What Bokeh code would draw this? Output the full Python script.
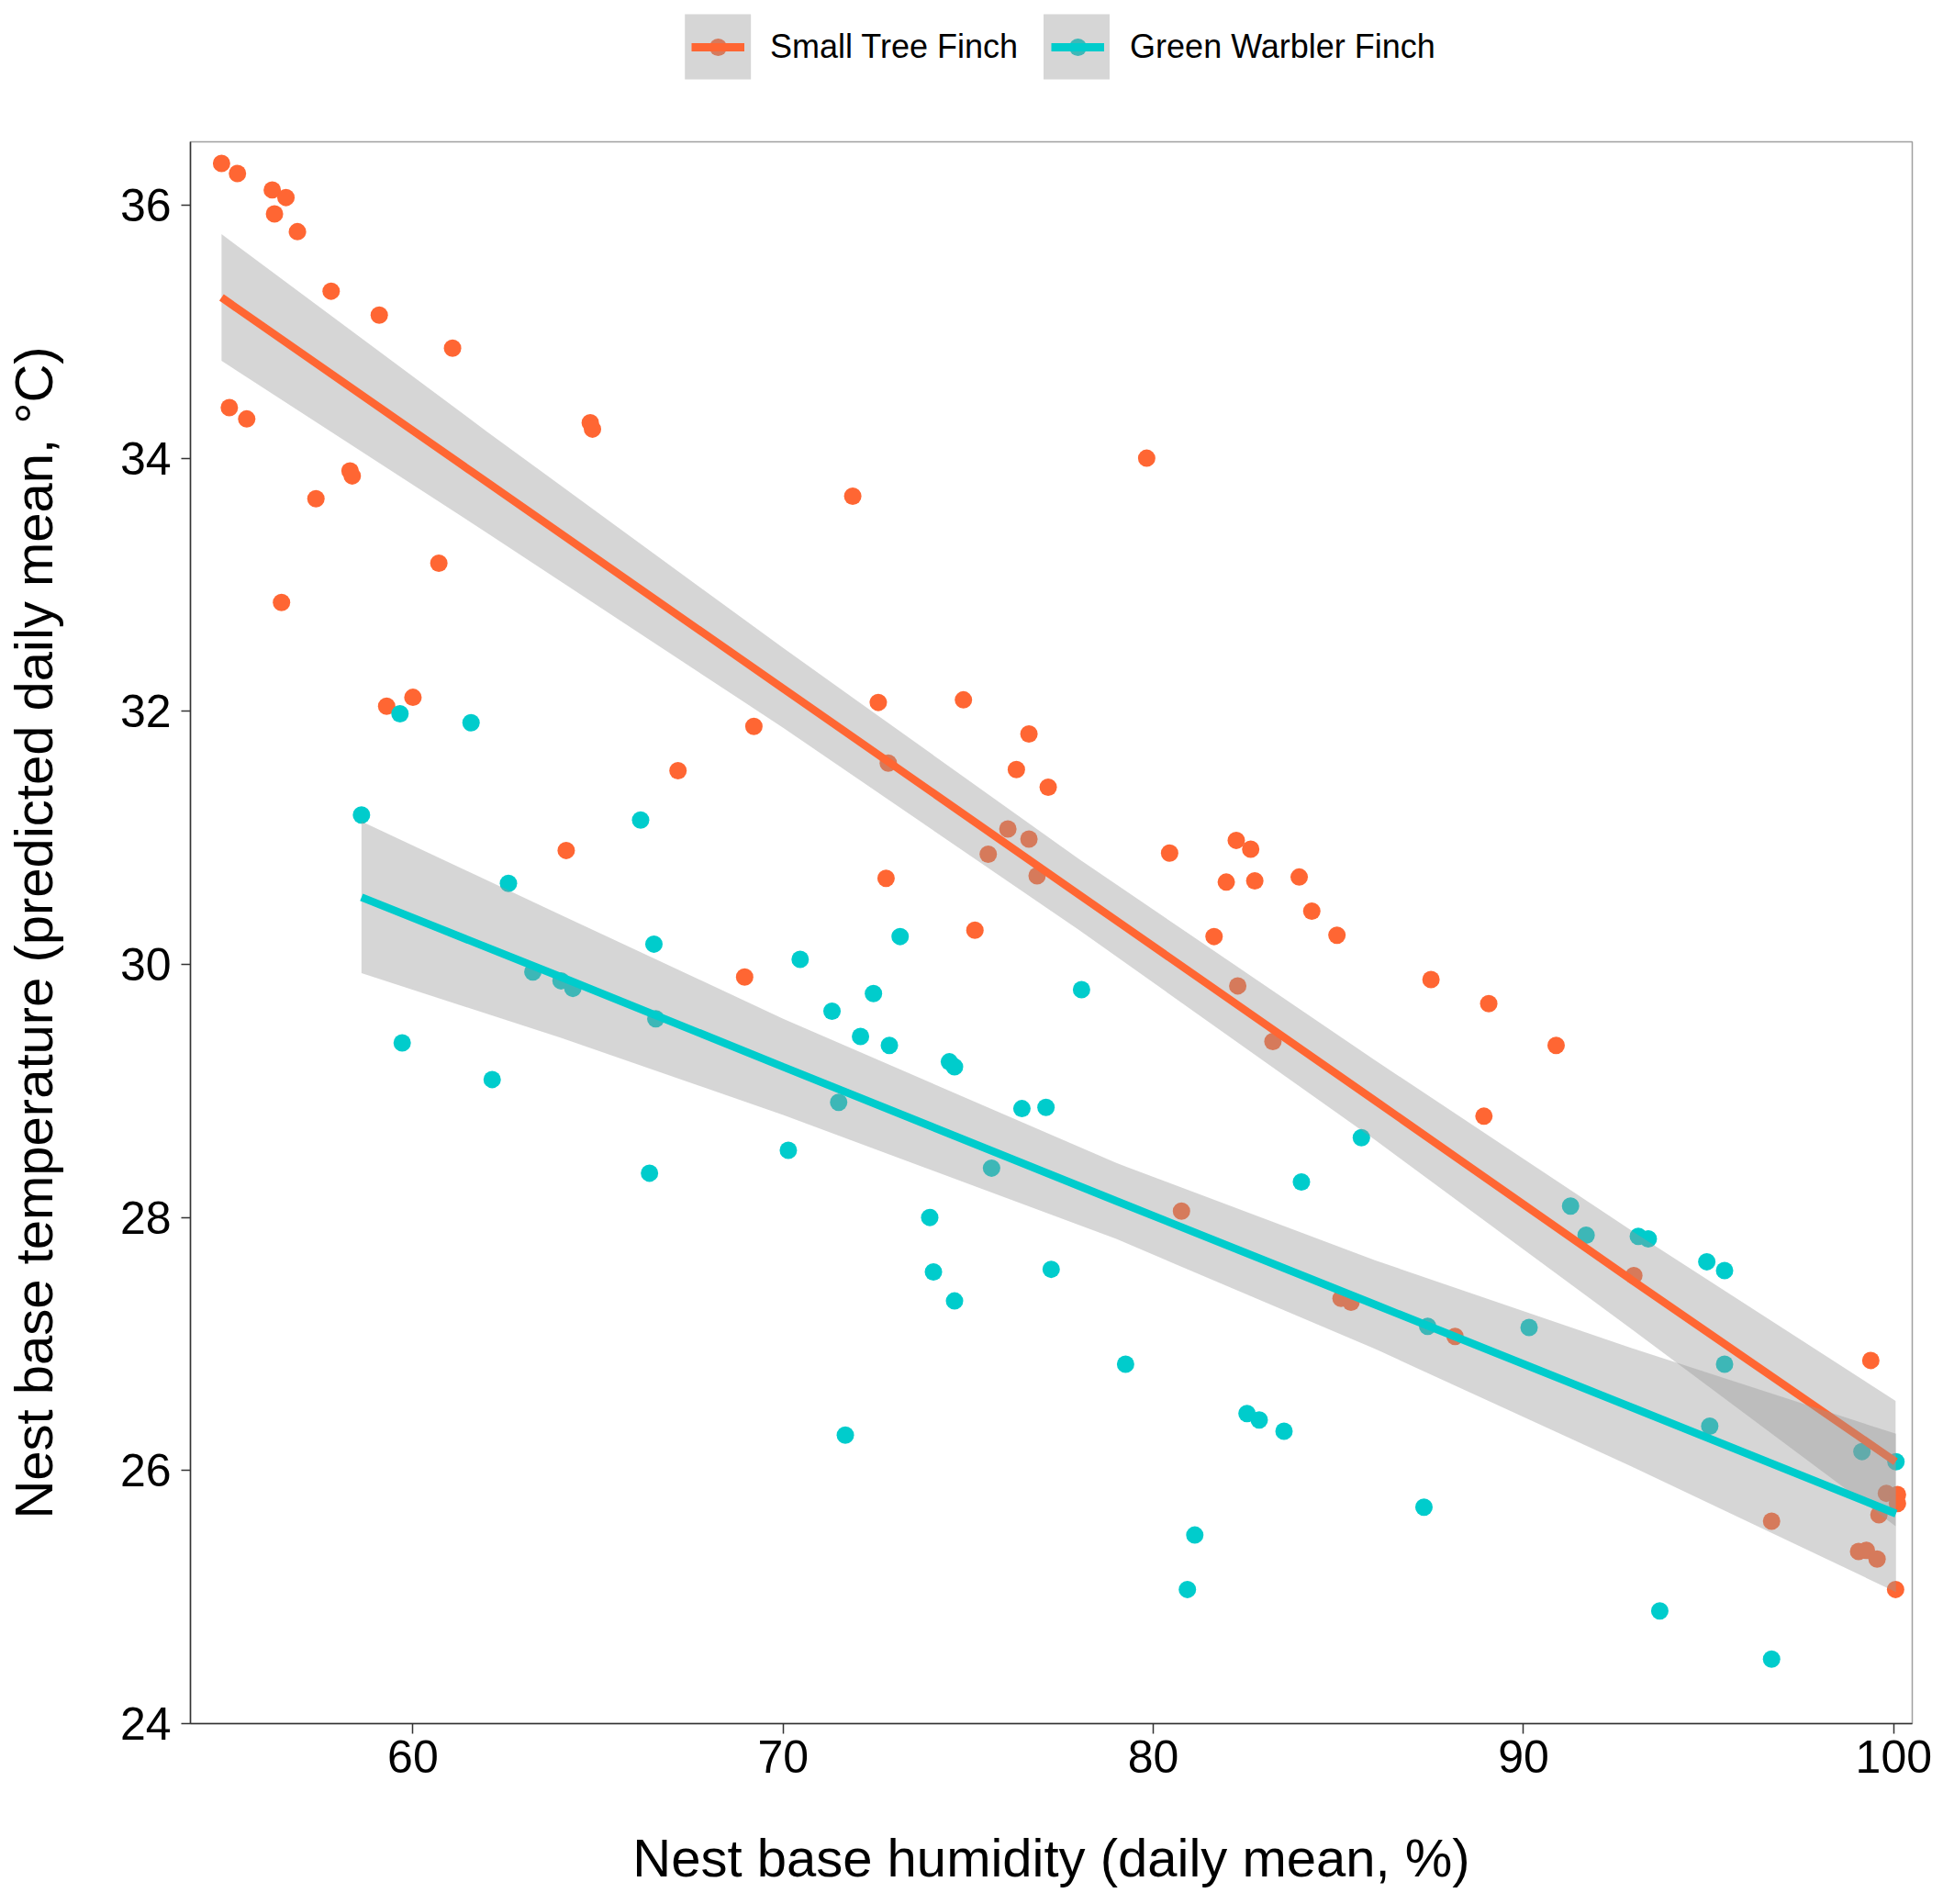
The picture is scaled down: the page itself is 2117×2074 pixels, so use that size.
from bokeh.plotting import figure
from bokeh.layouts import column
from bokeh.models import Legend, LegendItem, FixedTicker, Range1d, BoxAnnotation
from bokeh.embed import file_html
from bokeh.resources import INLINE

# ---------------- data ----------------
tree_x = [54.83, 55.26, 56.20, 56.57, 56.26, 56.88, 57.79, 59.09, 61.07, 55.04,
          55.51, 58.30, 58.36, 57.38, 64.79, 64.85, 60.70, 56.45, 59.29, 60.00,
          69.21, 67.16, 64.14, 68.96, 71.88, 72.57, 74.87, 72.84, 76.64, 76.30,
          77.16, 72.78, 76.07, 76.64, 75.54, 76.86, 75.18, 79.82, 80.44, 82.24,
          82.63, 81.97, 82.74, 83.94, 84.28, 81.64, 84.96, 82.28, 83.23, 87.50,
          89.06, 90.88, 88.93, 80.76, 92.98, 85.07, 85.34, 88.15, 99.38, 96.70,
          99.05, 99.26, 99.55, 100.05, 99.80, 100.10, 100.10, 99.60]
tree_y = [36.33, 36.25, 36.12, 36.06, 35.93, 35.79, 35.32, 35.13, 34.87, 34.40,
          34.31, 33.90, 33.86, 33.68, 34.28, 34.23, 33.17, 32.86, 32.04, 32.11,
          31.88, 31.53, 30.90, 29.90, 33.70, 32.07, 32.09, 31.59, 31.82, 31.54,
          31.40, 30.68, 31.07, 30.99, 30.87, 30.70, 30.27, 34.00, 30.88, 30.98,
          30.91, 30.65, 30.66, 30.69, 30.42, 30.22, 30.23, 29.83, 29.39, 29.88,
          29.69, 29.36, 28.80, 28.05, 27.54, 27.36, 27.33, 27.06, 26.87, 25.60,
          25.36, 25.37, 25.30, 25.06, 25.82, 25.81, 25.74, 25.65]

warbler_x = [58.61, 59.65, 61.57, 59.71, 62.14, 62.58, 63.24, 64.00, 64.32, 66.15,
             66.51, 66.56, 66.39, 70.46, 71.32, 72.09, 72.44, 72.87, 73.16, 71.50,
             70.14, 74.49, 74.63, 73.96, 74.06, 74.63, 71.68, 75.63, 76.45, 77.10,
             78.06, 77.24, 79.25, 85.62, 84.00, 87.41, 82.53, 82.86, 83.53, 87.31,
             81.12, 80.92, 90.15, 91.27, 91.69, 93.10, 93.37, 94.95, 95.43, 95.43,
             95.03, 99.14, 100.06, 93.68, 96.70]
warbler_y = [31.18, 31.98, 31.91, 29.38, 29.09, 30.64, 29.94, 29.87, 29.81, 31.14,
             30.16, 29.57, 28.35, 30.04, 29.63, 29.43, 29.77, 29.36, 30.22, 28.91,
             28.53, 29.23, 29.19, 28.00, 27.57, 27.34, 26.28, 28.39, 28.86, 28.87,
             29.80, 27.59, 26.84, 28.63, 28.28, 27.14, 26.45, 26.40, 26.31, 25.71,
             25.49, 25.06, 27.13, 28.09, 27.86, 27.85, 27.83, 27.65, 27.58, 26.84,
             26.35, 26.15, 26.07, 24.89, 24.51]

# linear fits with 95% confidence band
tree_fit_x = [54.83, 62.0, 70.0, 78.0, 86.0, 93.0, 100.05]
tree_fit = [35.27, 33.81, 32.18, 30.55, 28.92, 27.49, 26.07]
tree_lo = [34.77, 33.41, 31.87, 30.27, 28.61, 27.10, 25.56]
tree_hi = [35.77, 34.21, 32.50, 30.83, 29.24, 27.88, 26.55]

warbler_fit_x = [58.61, 64.0, 70.0, 79.0, 86.0, 93.0, 100.06]
warbler_fit = [30.53, 29.90, 29.19, 28.13, 27.31, 26.49, 25.66]
warbler_lo = [29.93, 29.42, 28.81, 27.83, 26.96, 26.02, 25.04]
warbler_hi = [31.13, 30.39, 29.57, 28.43, 27.66, 26.96, 26.29]

series_names = ["Small Tree Finch", "Green Warbler Finch"]
x_ticks = [60, 70, 80, 90, 100]
y_ticks = [24, 26, 28, 30, 32, 34, 36]

# ---------------- style ----------------
TREE = "#FF6633"
WARB = "#00CCCC"
TREE_MUTED = "#D67A5C"
WARB_MUTED = "#3DB8B8"
BAND = "#999999"
KEY_BG = "#D6D6D6"
FONT = "Liberation Sans"
W = 2108
FRAME_L, FRAME_R = 206, 2083   # page pixels of the plotting frame

# ---------------- main plot ----------------
p = figure(width=W, height=1912, output_backend="svg", toolbar_location=None,
           x_range=Range1d(53.99, 100.5), y_range=Range1d(24.0, 36.5),
           min_border_left=FRAME_L, min_border_right=W - FRAME_R, min_border_top=2,
           min_border_bottom=187)
p.xgrid.visible = False
p.ygrid.visible = False
p.background_fill_color = "white"
p.border_fill_color = "white"
p.outline_line_color = "#A0A0A0"
p.outline_line_width = 1.5

p.xaxis.ticker = FixedTicker(ticks=x_ticks)
p.yaxis.ticker = FixedTicker(ticks=y_ticks)
p.xaxis.axis_label = "Nest base humidity (daily mean, %)"
p.yaxis.axis_label = "Nest base temperature (predicted daily mean, \u00b0C)"
for ax in (p.xaxis[0], p.yaxis[0]):
    ax.axis_line_color = "#333333"
    ax.axis_line_width = 1.5
    ax.major_tick_line_color = "#333333"
    ax.major_tick_line_width = 1.5
    ax.major_tick_in = 0
    ax.minor_tick_line_color = None
    ax.major_label_text_font = FONT
    ax.major_label_text_font_size = "50px"
    ax.major_label_text_color = "black"
    ax.axis_label_text_font = FONT
    ax.axis_label_text_font_size = "58px"
    ax.axis_label_text_font_style = "normal"
    ax.axis_label_text_color = "black"
p.xaxis.major_tick_out = 11
p.yaxis.major_tick_out = 10
p.xaxis.major_label_standoff = 7
p.xaxis.axis_label_standoff = 57
p.yaxis.major_label_standoff = 11
p.yaxis.axis_label_standoff = 59

# points first, then bands and lines on top (as in the original)
p.scatter(tree_x, tree_y, size=19, fill_color=TREE, line_color=None)
p.scatter(warbler_x, warbler_y, size=19, fill_color=WARB, line_color=None)

p.varea(x=tree_fit_x, y1=tree_lo, y2=tree_hi, fill_color=BAND, fill_alpha=0.4)
p.line(tree_fit_x, tree_fit, line_color=TREE, line_width=8.5)
p.varea(x=warbler_fit_x, y1=warbler_lo, y2=warbler_hi, fill_color=BAND, fill_alpha=0.4)
p.line(warbler_fit_x, warbler_fit, line_color=WARB, line_width=8.5)

# ---------------- legend strip above the plot ----------------
# its frame is aligned with the main frame by the column layout;
# ranges are in page pixels so the key boxes can be placed directly
lg = figure(width=W, height=152, output_backend="svg", toolbar_location=None,
            x_range=Range1d(FRAME_L, FRAME_R), y_range=Range1d(152, 0),
            x_axis_location=None, y_axis_location=None, min_border=0,
            min_border_left=FRAME_L, min_border_right=W - FRAME_R)
lg.xgrid.visible = False
lg.ygrid.visible = False
lg.outline_line_color = None
lg.background_fill_color = "white"
lg.border_fill_color = "white"

for left in (745, 1136):
    lg.add_layout(BoxAnnotation(left=left, right=left + 72, top=15, bottom=86,
                                fill_color=KEY_BG, fill_alpha=1.0, line_color=None,
                                level="underlay"))

# legend-only renderers (their data fall outside this strip's ranges, so only the keys show)
k_tree_pt = lg.scatter(tree_x, tree_y, size=19, fill_color=TREE_MUTED, line_color=None)
k_tree_ln = lg.line(tree_fit_x, tree_fit, line_color=TREE, line_width=9)
k_warb_pt = lg.scatter(warbler_x, warbler_y, size=19, fill_color=WARB_MUTED, line_color=None)
k_warb_ln = lg.line(warbler_fit_x, warbler_fit, line_color=WARB, line_width=9)

legend = Legend(items=[LegendItem(label=series_names[0], renderers=[k_tree_pt, k_tree_ln]),
                       LegendItem(label=series_names[1], renderers=[k_warb_pt, k_warb_ln])],
                orientation="horizontal", location=(752 - FRAME_L, 77),
                glyph_width=58, glyph_height=48, label_standoff=28, spacing=36,
                padding=0, margin=0, border_line_color=None, background_fill_alpha=0,
                label_text_font=FONT, label_text_font_size="36px",
                label_text_color="black")
lg.add_layout(legend)

layout = column(lg, p, spacing=0)
open("out.html", "w").write(file_html(layout, INLINE))
